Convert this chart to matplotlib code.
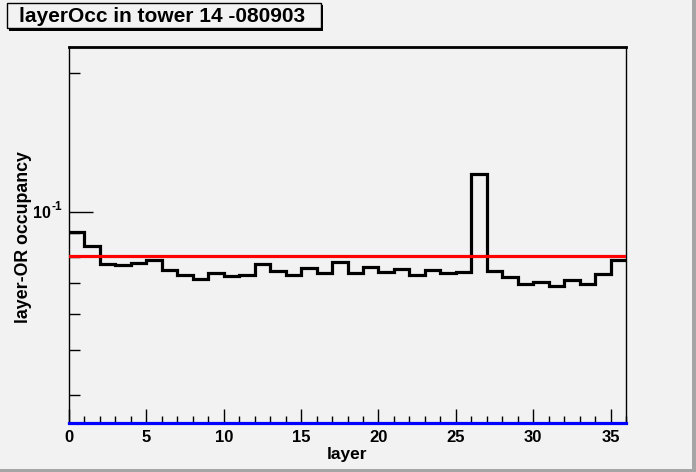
import numpy as np
import matplotlib
matplotlib.use('Agg')
import matplotlib.pyplot as plt
from matplotlib.patches import Rectangle
from matplotlib.ticker import FixedLocator, NullFormatter, MultipleLocator

plt.rcParams['font.family'] = ['Liberation Sans', 'DejaVu Sans']
plt.rcParams['font.weight'] = 'bold'

# Data
layer_edges = np.arange(0, 37)
occupancy = [0.0903, 0.0843, 0.0771, 0.0766, 0.0776, 0.0786, 0.0747, 0.0728,
             0.0714, 0.0738, 0.0725, 0.0731, 0.0772, 0.0745, 0.0728, 0.0754,
             0.0737, 0.0779, 0.0737, 0.0758, 0.0740, 0.0750, 0.0728, 0.0748,
             0.0736, 0.0740, 0.1208, 0.0745, 0.0722, 0.0697, 0.0704, 0.0689,
             0.0711, 0.0696, 0.0732, 0.0788]
mean_level = 0.0801
y_min, y_max = 0.03473, 0.2287
title = "layerOcc in tower 14 -080903"

W, H = 696, 472
bg = '#f2f2f2'
fig = plt.figure(figsize=(W/100, H/100), dpi=100, facecolor=bg)
ax = fig.add_axes([69/W, 1-423.3/H, 557/W, 376.6/H])
ax.set_facecolor(bg)

ax.stairs(occupancy, layer_edges, baseline=None, color='black', lw=2.3, zorder=3)
ax.axhline(mean_level, color='#ff0000', lw=2.3, zorder=4)
ax.axhline(y_min, color='#0000ff', lw=2.3, zorder=5, clip_on=False)

ax.set_yscale('log')
ax.set_xlim(0, 36)
ax.set_ylim(y_min, y_max)

# ROOT style ticks: inside, on bottom and left only
ax.xaxis.set_major_locator(MultipleLocator(5))
ax.xaxis.set_minor_locator(MultipleLocator(1))
ax.yaxis.set_major_locator(FixedLocator([0.1]))
ax.yaxis.set_minor_locator(FixedLocator([0.04, 0.05, 0.06, 0.07, 0.08, 0.09, 0.2]))
ax.yaxis.set_minor_formatter(NullFormatter())
ax.set_yticklabels([''])
ax.tick_params(axis='x', which='major', direction='in', length=10, width=1, labelsize=12, pad=5)
ax.tick_params(axis='x', which='minor', direction='in', length=5, width=1)
ax.tick_params(axis='y', which='major', direction='in', length=17, width=1)
ax.tick_params(axis='y', which='minor', direction='in', length=8, width=1)
for lab in ax.get_xticklabels():
    lab.set_fontweight('bold')

for s in ax.spines.values():
    s.set_linewidth(1.0)
ax.spines['top'].set_linewidth(2.0)

# y tick label 10^-1 (ROOT style with a plain hyphen)
fig.text(50.5/W, 1-213/H, '10', fontsize=11.5, fontweight='bold', ha='right', va='center')
fig.text(51.5/W, 1-207/H, '-1', fontsize=8.5, fontweight='bold', ha='left', va='center')

# axis titles
fig.text(347/W, 1-455/H, 'layer', fontsize=12.5, fontweight='bold', ha='center', va='center')
fig.text(24/W, 1-237.5/H, 'layer-OR occupancy', fontsize=12.8, fontweight='bold',
         rotation=90, ha='center', va='center')

# title box with shadow
fig.patches.append(Rectangle((8.5/W, 1-30.5/H), 314/W, 25.6/H,
                             transform=fig.transFigure, facecolor='black',
                             edgecolor='none', zorder=1))
fig.patches.append(Rectangle((6.7/W, 1-28.3/H), 314/W, 25.6/H,
                             transform=fig.transFigure, facecolor=bg,
                             edgecolor='black', lw=1, zorder=2))
fig.text(162.5/W, 1-16/H, title, fontsize=15, fontweight='bold',
         ha='center', va='center', zorder=3)

# canvas border
fig.patches.append(Rectangle((692/W, 0), 4/W, 1, transform=fig.transFigure,
                             facecolor='#a5a5a5', edgecolor='none'))
fig.patches.append(Rectangle((0, 0), 1, 3.5/H, transform=fig.transFigure,
                             facecolor='#a5a5a5', edgecolor='none'))

fig.savefig('out.png', dpi=100, facecolor=bg)
